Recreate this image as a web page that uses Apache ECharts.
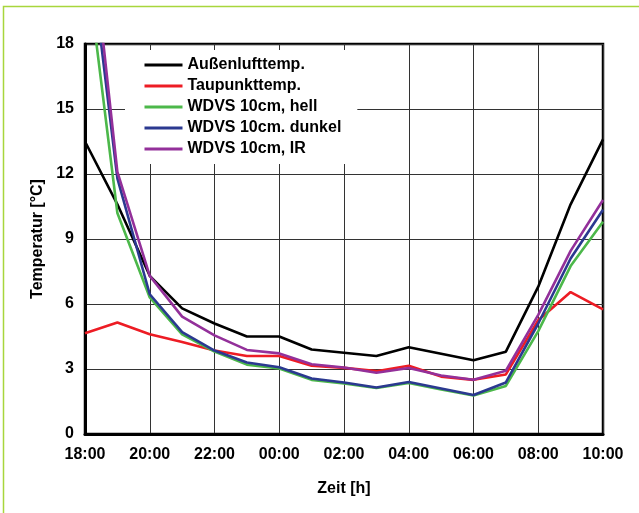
<!DOCTYPE html>
<html>
<head>
<meta charset="utf-8">
<script src="https://cdn.jsdelivr.net/npm/echarts@6/dist/echarts.min.js"></script>
<style>
html,body{margin:0;padding:0;background:#fff;}
#chart{width:639px;height:513px;}
</style>
</head>
<body>
<div id="chart"></div>
<script>
var hours = ["18:00","19:00","20:00","21:00","22:00","23:00","00:00","01:00","02:00","03:00","04:00","05:00","06:00","07:00","08:00","09:00","10:00"];
var yTicks = [0, 3, 6, 9, 12, 15, 18];
var seriesNames = ["Außenlufttemp.", "Taupunkttemp.", "WDVS 10cm, hell", "WDVS 10cm. dunkel", "WDVS 10cm, IR"];
var aussen   = [13.5, 10.6, 7.3, 5.8, 5.1, 4.5, 4.5, 3.9, 3.75, 3.6, 4.0, 3.7, 3.4, 3.8, 6.8, 10.6, 13.6];
var taupunkt = [4.65, 5.15, 4.6, 4.25, 3.85, 3.6, 3.6, 3.15, 3.05, 2.9, 3.15, 2.65, 2.5, 2.75, 5.25, 6.55, 5.75];
var hell     = [22.3, 10.2, 6.3, 4.6, 3.8, 3.2, 3.02, 2.5, 2.33, 2.12, 2.35, 2.05, 1.78, 2.22, 4.75, 7.75, 9.8];
var dunkel   = [24.2, 11.8, 6.45, 4.7, 3.85, 3.3, 3.08, 2.56, 2.38, 2.15, 2.4, 2.1, 1.8, 2.38, 5.1, 8.1, 10.35];
var ir       = [25.8, 12.1, 7.3, 5.42, 4.55, 3.88, 3.72, 3.22, 3.07, 2.83, 3.05, 2.7, 2.5, 2.92, 5.5, 8.45, 10.8];
var colors = ["#000000", "#ed1c24", "#4cb84a", "#2b3990", "#93309a"];

var FONT = "'Liberation Sans', Arial, sans-serif";
var chart = echarts.init(document.getElementById('chart'), null, {renderer: 'canvas'});
var dataSets = [aussen, taupunkt, hell, dunkel, ir];
var series = dataSets.map(function (d, i) {
  return {
    name: seriesNames[i],
    type: 'line',
    data: d,
    symbol: 'none',
    clip: true,
    lineStyle: {color: colors[i], width: 2.6},
    itemStyle: {color: colors[i]},
    z: 3 + i
  };
});
chart.setOption({
  animation: false,
  backgroundColor: '#ffffff',
  grid: {left: 85, right: 36, top: 44, bottom: 79, show: true, borderColor: '#000', borderWidth: 2.5, backgroundColor: 'transparent'},
  legend: {
    orient: 'vertical',
    left: 125, top: 50,
    padding: [7, 16, 7, 18],
    itemWidth: 38, itemHeight: 14, itemGap: 5,
    backgroundColor: '#ffffff',
    data: seriesNames,
    itemStyle: {opacity: 0},
    lineStyle: {width: 3},
    textStyle: {fontFamily: FONT, fontWeight: 'bold', fontSize: 16, color: '#000'},
    z: 2
  },
  xAxis: {
    type: 'category',
    data: hours,
    boundaryGap: false,
    name: 'Zeit [h]',
    nameLocation: 'middle',
    nameGap: 47,
    nameTextStyle: {fontFamily: FONT, fontWeight: 'bold', fontSize: 16, color: '#000'},
    axisLine: {show: true, lineStyle: {color: '#000', width: 3}},
    axisTick: {show: false},
    axisLabel: {interval: 1, margin: 13, fontFamily: FONT, fontWeight: 'bold', fontSize: 16, color: '#000'},
    splitLine: {show: true, interval: 1, lineStyle: {color: '#333', width: 1}}
  },
  yAxis: {
    type: 'value',
    min: yTicks[0], max: yTicks[yTicks.length - 1], interval: 3,
    name: 'Temperatur [°C]',
    nameLocation: 'middle',
    nameGap: 39,
    nameTextStyle: {fontFamily: FONT, fontWeight: 'bold', fontSize: 16, color: '#000'},
    axisLine: {show: true, lineStyle: {color: '#000', width: 3}},
    axisTick: {show: false},
    axisLabel: {margin: 11, fontFamily: FONT, fontWeight: 'bold', fontSize: 16, color: '#000'},
    splitLine: {show: true, lineStyle: {color: '#333', width: 1}}
  },
  graphic: [{
    type: 'polyline',
    shape: {points: [[3.5, 513], [3.5, 6.5], [639, 6.5]]},
    style: {stroke: '#a8d63c', lineWidth: 1.5, fill: null},
    silent: true
  }],
  series: series
});
</script>
</body>
</html>
